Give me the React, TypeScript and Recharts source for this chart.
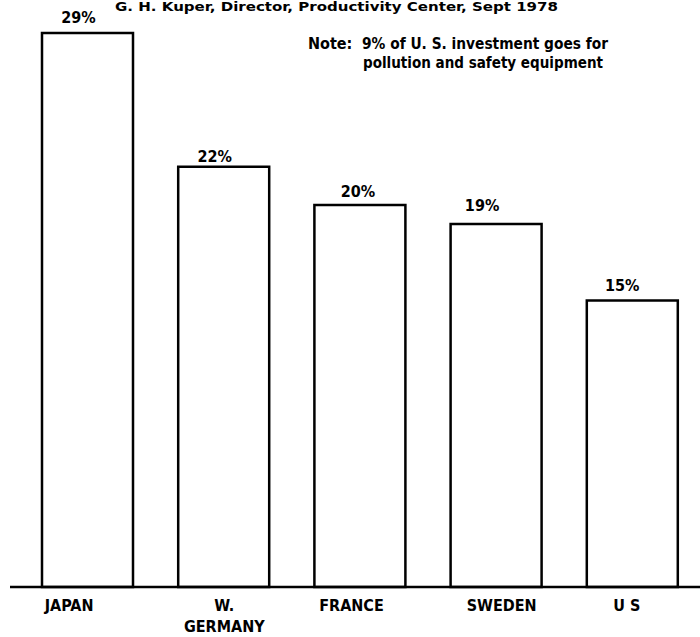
import React from "react";
import { BarChart, Bar, XAxis, YAxis, LabelList } from "recharts";

const categories = ["JAPAN", "W. GERMANY", "FRANCE", "SWEDEN", "U S"];
const tickLines = [["JAPAN"], ["W.", "GERMANY"], ["FRANCE"], ["SWEDEN"], ["U S"]];
const investmentShare = [29, 22, 20, 19, 15];
const valueLabels = ["29%", "22%", "20%", "19%", "15%"];
const yDomain = [0, 30];

const titleText = "G. H. Kuper, Director, Productivity Center, Sept 1978";
const noteHead = "Note:";
const noteLine1 = "9% of U. S. investment goes for";
const noteLine2 = "pollution and safety equipment";

const data = categories.map((c, i) => ({
  name: c,
  value: investmentShare[i],
  label: valueLabels[i],
  lines: tickLines[i],
}));

const FONT = "'Liberation Sans Narrow', 'DejaVu Sans Condensed', 'Roboto Condensed', sans-serif";

// small hand-drawn offsets (style only)
const tickDx = [-18, 1, -8, 6, -5];
const labelDx = [-9, -9, -2, -14, -10];
const labelDy = [-10, -5, -8, -13, -10];

const CategoryTick = (props: any) => {
  const { x, y, payload, index } = props;
  const lines = tickLines[index] || [payload.value];
  return (
    <g>
      {lines.map((ln: string, k: number) => (
        <text
          key={k}
          x={x + (tickDx[index] || 0)}
          y={y + 16 + k * 21}
          textAnchor="middle"
          fontFamily={FONT}
          fontWeight="bold"
          fontSize={16}
          fill="#000"
        >
          {ln}
        </text>
      ))}
    </g>
  );
};

const ValueLabel = (props: any) => {
  const { x, y, width, index } = props;
  return (
    <text
      x={x + width / 2 + (labelDx[index] || 0)}
      y={y + (labelDy[index] || 0)}
      textAnchor="middle"
      fontFamily={FONT}
      fontWeight="bold"
      fontSize={16}
      fill="#000"
    >
      {valueLabels[index]}
    </text>
  );
};

export default function App() {
  return (
    <div style={{ position: "absolute", left: 0, top: 0, width: 700, height: 637, background: "#fff" }}>
      <BarChart
        width={700}
        height={637}
        data={data}
        margin={{ top: 14, right: 0, bottom: 20, left: 10 }}
        barCategoryGap={0}
      >
        <XAxis
          dataKey="name"
          height={30}
          axisLine={{ stroke: "#000", strokeWidth: 2.5 }}
          tickLine={false}
          tick={<CategoryTick />}
          interval={0}
          padding={{ left: 9, right: 0 }}
        />
        <YAxis hide domain={yDomain} />
        <Bar
          dataKey="value"
          fill="#fff"
          stroke="#000"
          strokeWidth={2.5}
          barSize={91}
          isAnimationActive={false}
        >
          <LabelList dataKey="label" content={<ValueLabel />} />
        </Bar>
        <text x={115} y={11} fontFamily={FONT} fontWeight="bold" fontSize={12} textLength={443} lengthAdjust="spacingAndGlyphs" fill="#000">
          {titleText}
        </text>
        <text x={308} y={49} fontFamily={FONT} fontWeight="bold" fontSize={16} fill="#000">
          {noteHead}
        </text>
        <text x={362} y={49} fontFamily={FONT} fontWeight="bold" fontSize={16} textLength={246} lengthAdjust="spacingAndGlyphs" fill="#000">
          {noteLine1}
        </text>
        <text x={363} y={68} fontFamily={FONT} fontWeight="bold" fontSize={16} textLength={240} lengthAdjust="spacingAndGlyphs" fill="#000">
          {noteLine2}
        </text>
      </BarChart>
    </div>
  );
}
